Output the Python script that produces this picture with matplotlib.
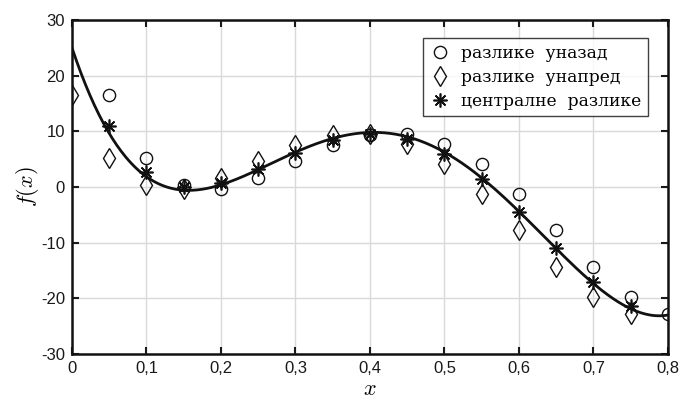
import numpy as np
import matplotlib
matplotlib.use("Agg")
import matplotlib.pyplot as plt

# ── Data ─────────────────────────────────────────────────────────
# exact derivative curve f(x) = 25 - 400x + 2025x^2 - 3600x^3 + 2000x^4
curve_coeffs = [2000, -3600, 2025, -400, 25]

x_back = [0.05, 0.10, 0.15, 0.20, 0.25, 0.30, 0.35, 0.40,
          0.45, 0.50, 0.55, 0.60, 0.65, 0.70, 0.75, 0.80]
y_back = [16.58, 5.20, 0.28, -0.30, 1.68, 4.70, 7.58, 9.40,
          9.58, 7.80, 4.08, -1.30, -7.72, -14.30, -19.82, -22.80]

x_fwd = [0.00, 0.05, 0.10, 0.15, 0.20, 0.25, 0.30, 0.35,
         0.40, 0.45, 0.50, 0.55, 0.60, 0.65, 0.70, 0.75]
y_fwd = [16.58, 5.20, 0.28, -0.30, 1.68, 4.70, 7.58, 9.40,
         9.58, 7.80, 4.08, -1.30, -7.72, -14.30, -19.82, -22.80]

x_cen = [0.05, 0.10, 0.15, 0.20, 0.25, 0.30, 0.35, 0.40,
         0.45, 0.50, 0.55, 0.60, 0.65, 0.70, 0.75]
y_cen = [10.89, 2.74, -0.01, 0.69, 3.19, 6.14, 8.49, 9.49,
         8.69, 5.94, 1.39, -4.51, -11.01, -17.06, -21.31]

labels = ["разлике  уназад", "разлике  унапред", "централне  разлике"]
xticks = [0, 0.1, 0.2, 0.3, 0.4, 0.5, 0.6, 0.7, 0.8]
xtick_labels = ["0", "0,1", "0,2", "0,3", "0,4", "0,5", "0,6", "0,7", "0,8"]
yticks = [-30, -20, -10, 0, 10, 20, 30]

# ── Plot ─────────────────────────────────────────────────────────
plt.rcParams["mathtext.fontset"] = "cm"
plt.rcParams["axes.unicode_minus"] = False
plt.rcParams["font.family"] = ["Liberation Sans", "DejaVu Sans"]

fig = plt.figure(figsize=(6.83, 3.99), dpi=100)
ax = fig.add_axes([0.1054, 0.1128, 0.8726, 0.8371])

xs = np.linspace(0, 0.8, 400)
ax.plot(xs, np.polyval(curve_coeffs, xs), color="#111111", lw=2.0, zorder=2)

ax.plot(x_back, y_back, ls="none", marker="o", ms=8.8, mfc="none",
        mec="#111111", mew=1.0, label=labels[0], zorder=3)
ax.plot(x_fwd, y_fwd, ls="none", marker="d", ms=10.5, mfc="none",
        mec="#111111", mew=1.0, label=labels[1], zorder=3)
ax.plot(x_cen, y_cen, ls="none", marker=(8, 2, 0), ms=10, mfc="none",
        mec="#111111", mew=1.2, label=labels[2], zorder=4)

ax.set_xlim(0, 0.8)
ax.set_ylim(-30, 30)
ax.set_xticks(xticks)
ax.set_xticklabels(xtick_labels)
ax.set_yticks(yticks)
ax.tick_params(axis="both", direction="in", length=5, width=1.5,
               labelsize=12, top=True, right=True, pad=5, colors="#1a1a1a")
ax.grid(True, color="#d9d9d9", lw=1.0)
ax.set_axisbelow(True)
for sp in ax.spines.values():
    sp.set_linewidth(1.8)
    sp.set_color("#111111")

ax.set_ylabel(r"$f(x)$", fontsize=16, labelpad=0)
ax.set_xlabel(r"$x$", fontsize=16, labelpad=2)

leg = ax.legend(loc="upper right", bbox_to_anchor=(0.966, 0.946),
                prop={"family": ["DejaVu Serif"], "size": 12.3},
                frameon=True, fancybox=False, edgecolor="#111111",
                borderpad=0.4, handletextpad=0.6, labelspacing=0.4,
                handlelength=1.2, borderaxespad=0)
leg.get_frame().set_linewidth(1.0)

fig.savefig("out.png", dpi=100)
plt.close(fig)
